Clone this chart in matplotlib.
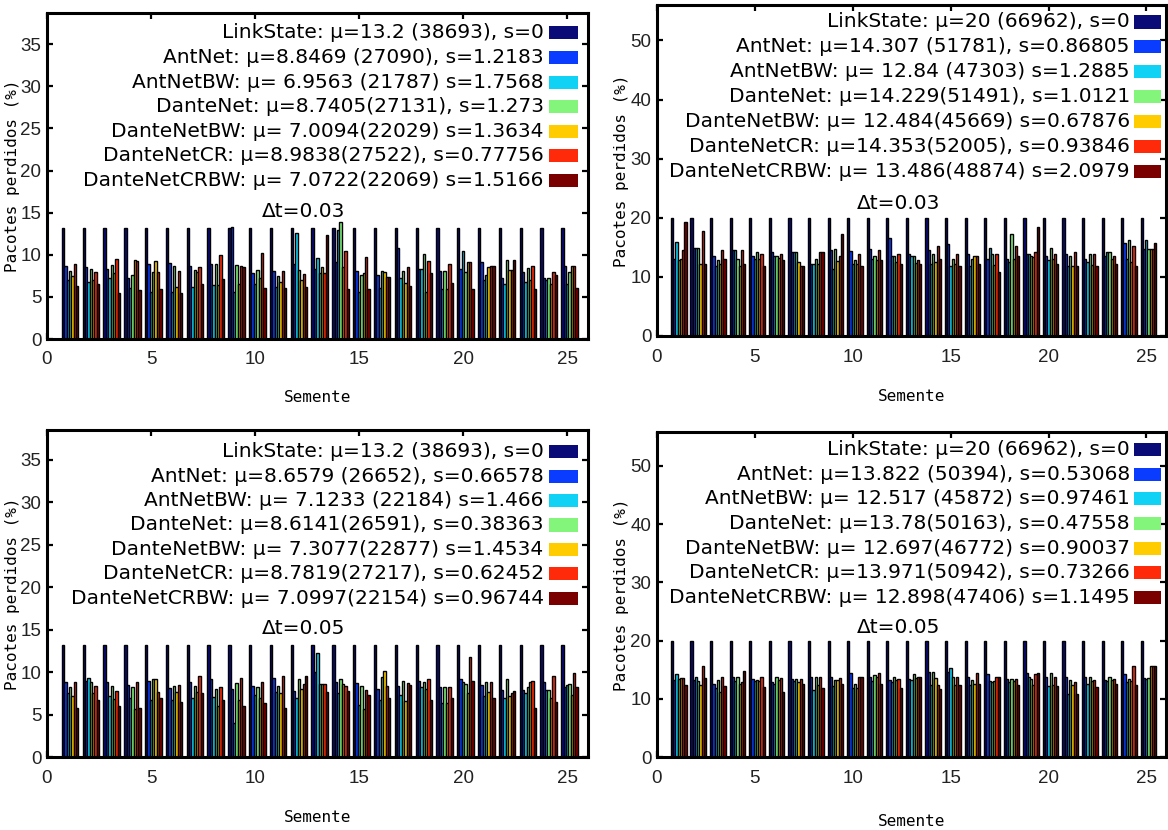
import matplotlib
matplotlib.use("Agg")
import matplotlib.pyplot as plt
from matplotlib.patches import Rectangle
from matplotlib.ticker import MultipleLocator
import numpy as np

# ---------------------------------------------------------------------------
# Data: packet loss (%) per seed, one list per algorithm and per run
# ---------------------------------------------------------------------------

seeds = list(range(1, 26))
algorithms = ["LinkState", "AntNet", "AntNetBW", "DanteNet",
              "DanteNetBW", "DanteNetCR", "DanteNetCRBW"]

# top-left: small network, dt = 0.03
tl_linkstate = [13.2] * 25
tl_antnet = [8.7, 8.6, 8.3, 7.3, 8.9, 9.0, 8.7, 8.9, 13.3, 7.8, 8.1, 8.9, 8.3,
             9.2, 8.1, 7.6, 10.8, 8.3, 8.1, 8.3, 9.2, 7.3, 8.0, 7.3, 8.7]
tl_antnetbw = [7.0, 6.8, 7.2, 6.0, 5.6, 5.6, 6.2, 6.4, 5.6, 6.5, 6.2, 12.6, 9.6,
               12.9, 5.6, 6.0, 7.3, 8.3, 5.9, 10.5, 7.0, 6.5, 6.8, 7.0, 6.5]
tl_dantenet = [8.1, 8.3, 8.8, 7.6, 7.9, 8.7, 8.2, 8.9, 8.8, 8.2, 7.5, 8.2, 7.8,
               13.9, 7.6, 8.1, 8.1, 10.1, 8.1, 8.0, 7.6, 9.4, 8.4, 7.3, 8.0]
tl_dantenetbw = [7.5, 7.0, 7.8, 9.4, 9.3, 6.2, 7.9, 6.4, 6.5, 7.2, 6.8, 7.0, 8.5,
                 8.6, 7.8, 8.0, 6.6, 5.6, 5.9, 9.2, 8.5, 8.2, 7.0, 6.5, 8.7]
tl_dantenetcr = [8.9, 8.0, 9.5, 9.3, 8.0, 8.1, 8.6, 10.0, 8.7, 10.2, 8.1, 7.7, 7.8,
                 10.5, 9.7, 7.4, 8.5, 9.3, 8.9, 9.2, 8.7, 8.2, 8.7, 7.9, 8.7]
tl_dantenetcrbw = [6.3, 6.5, 5.5, 5.8, 5.9, 5.5, 6.5, 7.1, 8.6, 6.0, 6.0, 6.2, 12.3,
                   5.9, 5.9, 7.4, 6.3, 7.8, 6.7, 5.9, 8.7, 9.4, 5.9, 7.6, 6.0]

# top-right: large network, dt = 0.03
tr_linkstate = [20.0] * 25
tr_antnet = [13.1, 14.9, 13.6, 14.5, 13.5, 14.2, 14.2, 12.2, 14.6, 14.4, 14.8, 16.5,
             13.9, 14.5, 15.5, 13.8, 13.1, 13.1, 13.8, 13.6, 13.8, 13.1, 13.5, 15.7, 14.8]
tr_antnetbw = [15.9, 14.9, 11.8, 14.5, 13.0, 13.6, 14.2, 12.2, 11.4, 12.2, 13.0, 13.5,
               13.6, 12.2, 11.9, 11.9, 14.9, 12.5, 13.8, 12.8, 11.9, 12.5, 14.2, 13.0, 16.3]
tr_dantenet = [12.8, 14.9, 12.9, 13.1, 14.2, 13.5, 14.2, 13.1, 14.8, 12.9, 13.5, 13.5,
               13.5, 13.9, 13.1, 13.1, 13.8, 17.3, 13.6, 14.9, 13.5, 13.8, 14.2, 16.2, 14.8]
tr_dantenetbw = [13.0, 12.2, 12.2, 11.8, 13.0, 13.2, 12.5, 12.2, 12.7, 12.2, 12.8, 12.5,
                 12.4, 12.5, 12.2, 13.5, 12.0, 13.0, 13.4, 13.1, 11.9, 12.0, 13.0, 12.5, 14.8]
tr_dantenetcr = [14.5, 17.8, 14.5, 14.5, 13.8, 13.9, 11.9, 14.2, 13.6, 13.9, 14.5, 13.9,
                 12.8, 15.2, 13.8, 13.5, 13.8, 15.2, 14.2, 13.9, 14.2, 13.8, 13.5, 15.2, 14.8]
tr_dantenetcrbw = [19.3, 12.2, 13.1, 12.2, 11.9, 12.9, 11.9, 14.2, 17.2, 11.9, 12.9, 12.2,
                   12.2, 13.1, 11.9, 12.2, 10.8, 13.5, 18.4, 12.2, 11.9, 11.9, 12.2, 11.9, 15.7]

# bottom-left: small network, dt = 0.05
bl_linkstate = [13.2] * 25
bl_antnet = [8.8, 9.0, 8.8, 8.5, 9.0, 8.1, 8.8, 9.2, 8.0, 8.4, 9.3, 7.8, 10.0,
             8.8, 8.7, 8.0, 8.4, 9.0, 8.2, 9.2, 8.5, 7.9, 7.9, 8.8, 8.3]
bl_antnetbw = [7.5, 9.3, 7.2, 7.0, 6.7, 6.7, 6.9, 7.1, 4.0, 7.3, 7.6, 7.0, 12.2,
               7.5, 6.1, 6.7, 7.3, 8.3, 6.4, 8.8, 7.2, 7.0, 7.5, 7.9, 8.5]
bl_dantenet = [8.2, 8.8, 8.4, 8.2, 9.2, 8.4, 8.4, 8.0, 8.7, 8.2, 8.4, 9.2, 8.6,
               9.2, 8.4, 9.4, 9.0, 8.8, 8.2, 8.6, 8.8, 9.2, 8.3, 7.9, 8.6]
bl_dantenetbw = [7.2, 7.5, 6.8, 5.7, 9.2, 7.6, 7.6, 6.0, 6.7, 7.0, 7.5, 8.0, 8.6,
                 8.6, 5.7, 10.1, 6.6, 8.0, 6.4, 7.5, 7.6, 7.2, 8.8, 7.0, 7.3]
bl_dantenetcr = [8.8, 8.4, 7.8, 8.8, 7.6, 8.5, 9.5, 8.2, 9.3, 8.8, 9.5, 8.6, 8.6,
                 8.4, 7.9, 8.4, 8.7, 9.2, 8.2, 11.8, 8.8, 7.5, 9.0, 9.5, 9.9]
bl_dantenetcrbw = [5.8, 6.7, 6.0, 5.8, 6.9, 6.5, 7.5, 6.7, 6.0, 6.4, 5.8, 9.5, 7.6,
                   7.8, 7.3, 7.0, 8.5, 6.7, 6.9, 9.0, 6.9, 7.8, 5.8, 6.5, 8.3]

# bottom-right: large network, dt = 0.05
br_linkstate = [20.0] * 25
br_antnet = [13.2, 13.2, 12.5, 13.7, 13.4, 12.9, 13.4, 13.8, 13.8, 14.4, 13.7, 13.2,
             13.4, 14.6, 14.6, 13.8, 14.2, 13.4, 14.4, 13.7, 13.7, 13.7, 13.2, 14.2, 13.6]
br_antnetbw = [14.2, 13.8, 11.8, 13.1, 13.0, 12.6, 13.0, 11.5, 12.2, 11.8, 13.0, 12.8,
               13.2, 12.3, 15.3, 12.3, 13.0, 12.8, 13.7, 12.2, 10.8, 12.5, 13.0, 12.8, 13.4]
br_dantenet = [13.4, 13.0, 13.2, 13.7, 13.2, 13.8, 13.4, 13.8, 13.2, 12.5, 14.0, 13.7,
               14.2, 14.6, 13.7, 13.3, 12.9, 13.4, 13.4, 14.4, 13.2, 13.7, 13.7, 13.4, 13.6]
br_dantenetbw = [13.5, 12.3, 11.2, 12.5, 13.0, 13.2, 12.8, 12.3, 13.2, 11.8, 13.8, 13.2,
                 13.6, 13.6, 12.3, 12.5, 13.0, 13.0, 12.3, 12.3, 12.3, 13.0, 13.2, 13.0, 15.7]
br_dantenetcr = [13.6, 15.7, 13.7, 12.9, 13.7, 13.6, 13.4, 13.8, 13.6, 13.8, 14.4, 13.4,
                 13.7, 12.3, 13.8, 14.4, 13.7, 13.4, 14.2, 13.7, 12.9, 13.2, 13.4, 15.7, 15.7]
br_dantenetcrbw = [12.3, 13.6, 12.2, 14.7, 12.0, 11.2, 12.6, 11.9, 12.5, 13.8, 12.5, 11.9,
                   13.7, 11.6, 12.3, 12.5, 13.7, 12.3, 14.4, 12.2, 10.9, 12.0, 12.5, 12.3, 15.7]

# legend entries
tl_labels = ["LinkState: μ=13.2 (38693), s=0",
             "AntNet: μ=8.8469 (27090), s=1.2183",
             "AntNetBW: μ= 6.9563 (21787) s=1.7568",
             "DanteNet: μ=8.7405(27131), s=1.273",
             "DanteNetBW: μ= 7.0094(22029) s=1.3634",
             "DanteNetCR: μ=8.9838(27522), s=0.77756",
             "DanteNetCRBW: μ= 7.0722(22069) s=1.5166"]
tr_labels = ["LinkState: μ=20 (66962), s=0",
             "AntNet: μ=14.307 (51781), s=0.86805",
             "AntNetBW: μ= 12.84 (47303) s=1.2885",
             "DanteNet: μ=14.229(51491), s=1.0121",
             "DanteNetBW: μ= 12.484(45669) s=0.67876",
             "DanteNetCR: μ=14.353(52005), s=0.93846",
             "DanteNetCRBW: μ= 13.486(48874) s=2.0979"]
bl_labels = ["LinkState: μ=13.2 (38693), s=0",
             "AntNet: μ=8.6579 (26652), s=0.66578",
             "AntNetBW: μ= 7.1233 (22184) s=1.466",
             "DanteNet: μ=8.6141(26591), s=0.38363",
             "DanteNetBW: μ= 7.3077(22877) s=1.4534",
             "DanteNetCR: μ=8.7819(27217), s=0.62452",
             "DanteNetCRBW: μ= 7.0997(22154) s=0.96744"]
br_labels = ["LinkState: μ=20 (66962), s=0",
             "AntNet: μ=13.822 (50394), s=0.53068",
             "AntNetBW: μ= 12.517 (45872) s=0.97461",
             "DanteNet: μ=13.78(50163), s=0.47558",
             "DanteNetBW: μ= 12.697(46772) s=0.90037",
             "DanteNetCR: μ=13.971(50942), s=0.73266",
             "DanteNetCRBW: μ= 12.898(47406) s=1.1495"]

COLORS = ["#0b0b78", "#0a3cff", "#0fd2f5", "#82f57a",
          "#ffcc00", "#ff2a0a", "#7a0000"]

W, H = 1168, 830
TICK_FONT = ["Liberation Sans", "DejaVu Sans"]
MONO_FONT = "DejaVu Sans Mono"


def px_axes(fig, x0, y0, x1, y1):
    """Axes from pixel box (top-left origin)."""
    return fig.add_axes([x0 / W, (H - y1) / H, (x1 - x0) / W, (y1 - y0) / H])


def draw_panel(ax, series, labels, ymax, ystep, dt, key, xlab_y, ylab_x):
    bw = 0.114
    x = np.array(seeds, dtype=float)
    for j, vals in enumerate(series):
        ax.bar(x - 0.29 + (j + 0.5) * bw, vals, width=bw,
               color=COLORS[j], edgecolor="black", linewidth=1.0, zorder=2)

    ax.set_xlim(0, 26)
    ax.set_ylim(0, ymax)
    ax.xaxis.set_major_locator(MultipleLocator(5))
    ax.yaxis.set_major_locator(MultipleLocator(ystep))
    ax.tick_params(direction="in", length=4, width=1.6, top=True, right=True,
                   labelsize=13.5)
    ax.tick_params(axis="x", pad=9)
    ax.tick_params(axis="y", pad=4)
    for lab in ax.get_xticklabels() + ax.get_yticklabels():
        lab.set_family(TICK_FONT)
        lab.set_color("#222222")
    for sp in ax.spines.values():
        sp.set_linewidth(2.2)

    ax.set_xlabel("Semente", family=MONO_FONT, fontsize=11.5)
    ax.xaxis.set_label_coords(0.5, xlab_y)
    ax.set_ylabel("Pacotes perdidos (%)", family=MONO_FONT, fontsize=11.5)
    ax.yaxis.set_label_coords(ylab_x, 0.5)

    # key: right-aligned text with colour swatch on the right
    tx, bx0, bx1, top, step = key
    for j, lab in enumerate(labels):
        yy = 1 - top - j * step
        ax.text(tx, yy, lab, transform=ax.transAxes, ha="right", va="center",
                fontsize=14.5, family="DejaVu Sans", zorder=5)
        ax.add_patch(Rectangle((bx0, yy - 0.02), bx1 - bx0, 0.04,
                               transform=ax.transAxes, facecolor=COLORS[j],
                               edgecolor="none", zorder=5, clip_on=False))
    ax.text(0.475, 1 - top - 7.25 * step, "Δt=" + dt, transform=ax.transAxes,
            ha="center", va="center", fontsize=14.5, family="DejaVu Sans")


fig = plt.figure(figsize=(W / 100, H / 100), dpi=100)
fig.patch.set_facecolor("white")

ax_tl = px_axes(fig, 47, 13, 588, 339)
draw_panel(ax_tl,
           [tl_linkstate, tl_antnet, tl_antnetbw, tl_dantenet,
            tl_dantenetbw, tl_dantenetcr, tl_dantenetcrbw],
           tl_labels, 38.7, 5, "0.03", (0.918, 0.928, 0.982, 0.061, 0.0755),
           -0.155, -0.05)

ax_tr = px_axes(fig, 657, 5, 1166, 336)
draw_panel(ax_tr,
           [tr_linkstate, tr_antnet, tr_antnetbw, tr_dantenet,
            tr_dantenetbw, tr_dantenetcr, tr_dantenetcrbw],
           tr_labels, 56, 10, "0.03", (0.929, 0.937, 0.99, 0.051, 0.0755),
           -0.16, -0.055)

ax_bl = px_axes(fig, 47, 430, 588, 757)
draw_panel(ax_bl,
           [bl_linkstate, bl_antnet, bl_antnetbw, bl_dantenet,
            bl_dantenetbw, bl_dantenetcr, bl_dantenetcrbw],
           bl_labels, 38.5, 5, "0.05", (0.918, 0.928, 0.982, 0.067, 0.0745),
           -0.163, -0.05)

ax_br = px_axes(fig, 657, 432, 1166, 757)
draw_panel(ax_br,
           [br_linkstate, br_antnet, br_antnetbw, br_dantenet,
            br_dantenetbw, br_dantenetcr, br_dantenetcrbw],
           br_labels, 55.8, 10, "0.05", (0.929, 0.937, 0.99, 0.055, 0.0755),
           -0.175, -0.055)

fig.savefig("out.png", dpi=100)
